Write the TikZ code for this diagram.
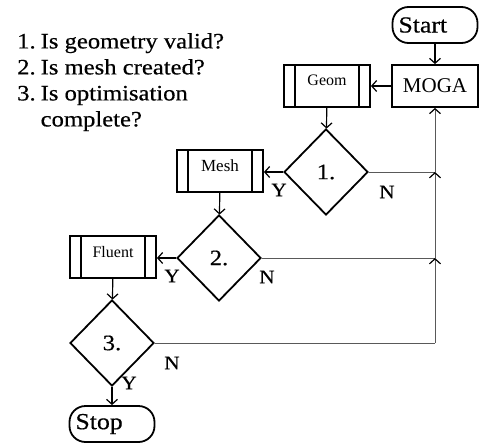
\documentclass[tikz,border=0pt]{standalone}
\usepackage{fontspec}
\setmainfont{Liberation Serif}
\newfontfamily\wideserif[FakeStretch=1.12, FakeBold=0.5]{Liberation Serif}
\usetikzlibrary{arrows.meta, shapes.geometric, positioning, calc}

\begin{document}
\begin{tikzpicture}[x=1pt, y=-1pt,
  flow/.style={line width=1.2pt, -{Straight Barb[length=5pt, width=11pt]}},
  back/.style={line width=1pt, gray!70!black},
  backflow/.style={back, -{Straight Barb[length=5pt, width=11pt, color=black, line width=1.2pt]}},
  term/.style={draw, line width=1.8pt, rounded corners=16pt, minimum width=85pt,
    minimum height=36pt, text width=73pt, inner xsep=6pt, align=left,
    font=\wideserif\fontsize{23}{26}\selectfont},
  proc/.style={draw, line width=1.8pt, minimum width=86pt, minimum height=42pt},
  subproc/.style={proc, text depth=11pt, font=\fontsize{16}{18}\selectfont,
    path picture={
      \draw[line width=1.8pt]
        ([xshift=11pt]path picture bounding box.north west) -- ([xshift=11pt]path picture bounding box.south west)
        ([xshift=-11pt]path picture bounding box.north east) -- ([xshift=-11pt]path picture bounding box.south east);
    }},
  decision/.style={draw, diamond, line width=1.8pt, minimum width=84pt,
    minimum height=86pt, inner sep=0pt, font=\wideserif\fontsize{22}{24}\selectfont},
  yn/.style={inner sep=0pt, font=\wideserif\fontsize{19}{20}\selectfont}]

\useasboundingbox (0,0) rectangle (481,444);

% ------------------------------------------------------------------
% QUESTIONS
% ------------------------------------------------------------------
\node[anchor=north west, inner sep=0pt, font=\wideserif\fontsize{22}{26}\selectfont] (quest) at (17,30)
  {\begin{tabular}{@{}l@{\hspace{5pt}}l@{}}
    1. & Is geometry valid?\\
    2. & Is mesh created?\\
    3. & Is optimisation\\
       & complete?
  \end{tabular}};

% ------------------------------------------------------------------
% BLOCKS
% ------------------------------------------------------------------
\node[term] (start) at (435,25) {Start};
\node[proc, font=\fontsize{21}{22}\selectfont] (moga) at (435,86) {MOGA};
\node[subproc] (geom) at (327,86) {Geom};
\node[decision] (d1) at (326,172) {1.};
\node[subproc, font=\fontsize{17}{18}\selectfont] (mesh) at (220,171) {Mesh};
\node[decision] (d2) at (219,258) {2.};
\node[subproc] (fluent) at (113,257) {Fluent};
\node[decision] (d3) at (112,343) {3.};
\node[term] (stop) at (112,424) {Stop};

% ------------------------------------------------------------------
% MAIN FLOW
% ------------------------------------------------------------------
\draw[flow] (start) -- (moga);
\draw[flow] (moga) -- (geom);
\draw[flow] (geom) -- (d1);
\draw[flow] (d1.west) -- (d1.west -| mesh.east);
\draw[flow] (mesh) -- (d2);
\draw[flow] (d2.west) -- (d2.west -| fluent.east);
\draw[flow] (fluent) -- (d3);
\draw[flow] (d3) -- (stop);

% ------------------------------------------------------------------
% FEEDBACK LOOP (N branches back to MOGA)
% ------------------------------------------------------------------
\foreach \d [count=\i] in {d1,d2,d3} {
  \coordinate (j\i) at (\d.east -| moga.south);
  \draw[back] (\d.east) -- (j\i);
}
\draw[backflow] (j3) -- (j2);
\draw[backflow] (j2) -- (j1);
\draw[backflow] (j1) -- (moga.south);

% Y / N labels
\node[yn] (y1) at (279,190) {Y};
\node[yn] (n1) at (387,192) {N};
\node[yn] (y2) at (172,276) {Y};
\node[yn] (n2) at (267,277) {N};
\node[yn] (n3) at (172,363) {N};
\node[yn] (y3) at (129,383) {Y};

\end{tikzpicture}
\end{document}
